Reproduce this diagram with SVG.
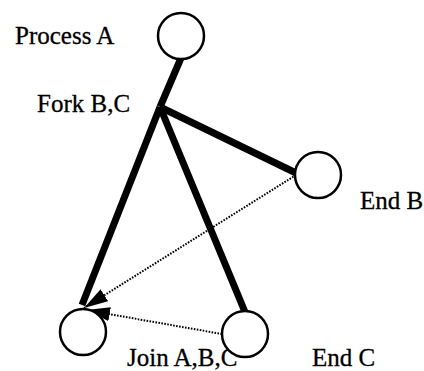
<svg xmlns="http://www.w3.org/2000/svg" width="424" height="371" viewBox="0 0 424 371">
<style>
.node{fill:#fff;stroke:#000;stroke-width:2.5}
.lbl{font-family:"Liberation Serif","Times New Roman",serif;font-size:25px;fill:#000;stroke:#000;stroke-width:0.3}
.thick{stroke:#000;stroke-width:7;fill:none;stroke-linecap:butt}
.dot{stroke:#000;stroke-width:2;fill:none;stroke-dasharray:1.6 1.4}
</style>
<defs>
<marker id="ah" markerUnits="userSpaceOnUse" markerWidth="26" markerHeight="16" refX="24" refY="7" orient="auto">
<path d="M0,0 L24,7 L0,14 z" fill="#000"/>
</marker>
</defs>
<g id="connectors">
<line class="thick" x1="181" y1="58" x2="160" y2="107"/>
<line class="thick" x1="160" y1="107" x2="296" y2="173"/>
<line class="thick" x1="160" y1="107" x2="245" y2="312"/>
<line class="thick" x1="160" y1="107" x2="82" y2="305"/>
<line class="dot" x1="296" y1="175" x2="84" y2="308" marker-end="url(#ah)"/>
<line class="dot" x1="222" y1="334" x2="86" y2="310" marker-end="url(#ah)"/>
</g>
<g id="process-a">
<circle class="node" cx="181" cy="36" r="23"/>
<text class="lbl" x="15" y="44">Process A</text>
</g>
<g id="fork-bc">
<text class="lbl" x="37" y="112">Fork B,C</text>
</g>
<g id="end-b">
<circle class="node" cx="318" cy="175" r="23"/>
<text class="lbl" x="360" y="209">End B</text>
</g>
<g id="join-abc">
<circle class="node" cx="83" cy="332" r="23"/>
<text class="lbl" x="127" y="366">Join A,B,C</text>
</g>
<g id="end-c">
<circle class="node" cx="245" cy="334" r="23"/>
<text class="lbl" x="312" y="366">End C</text>
</g>
</svg>
